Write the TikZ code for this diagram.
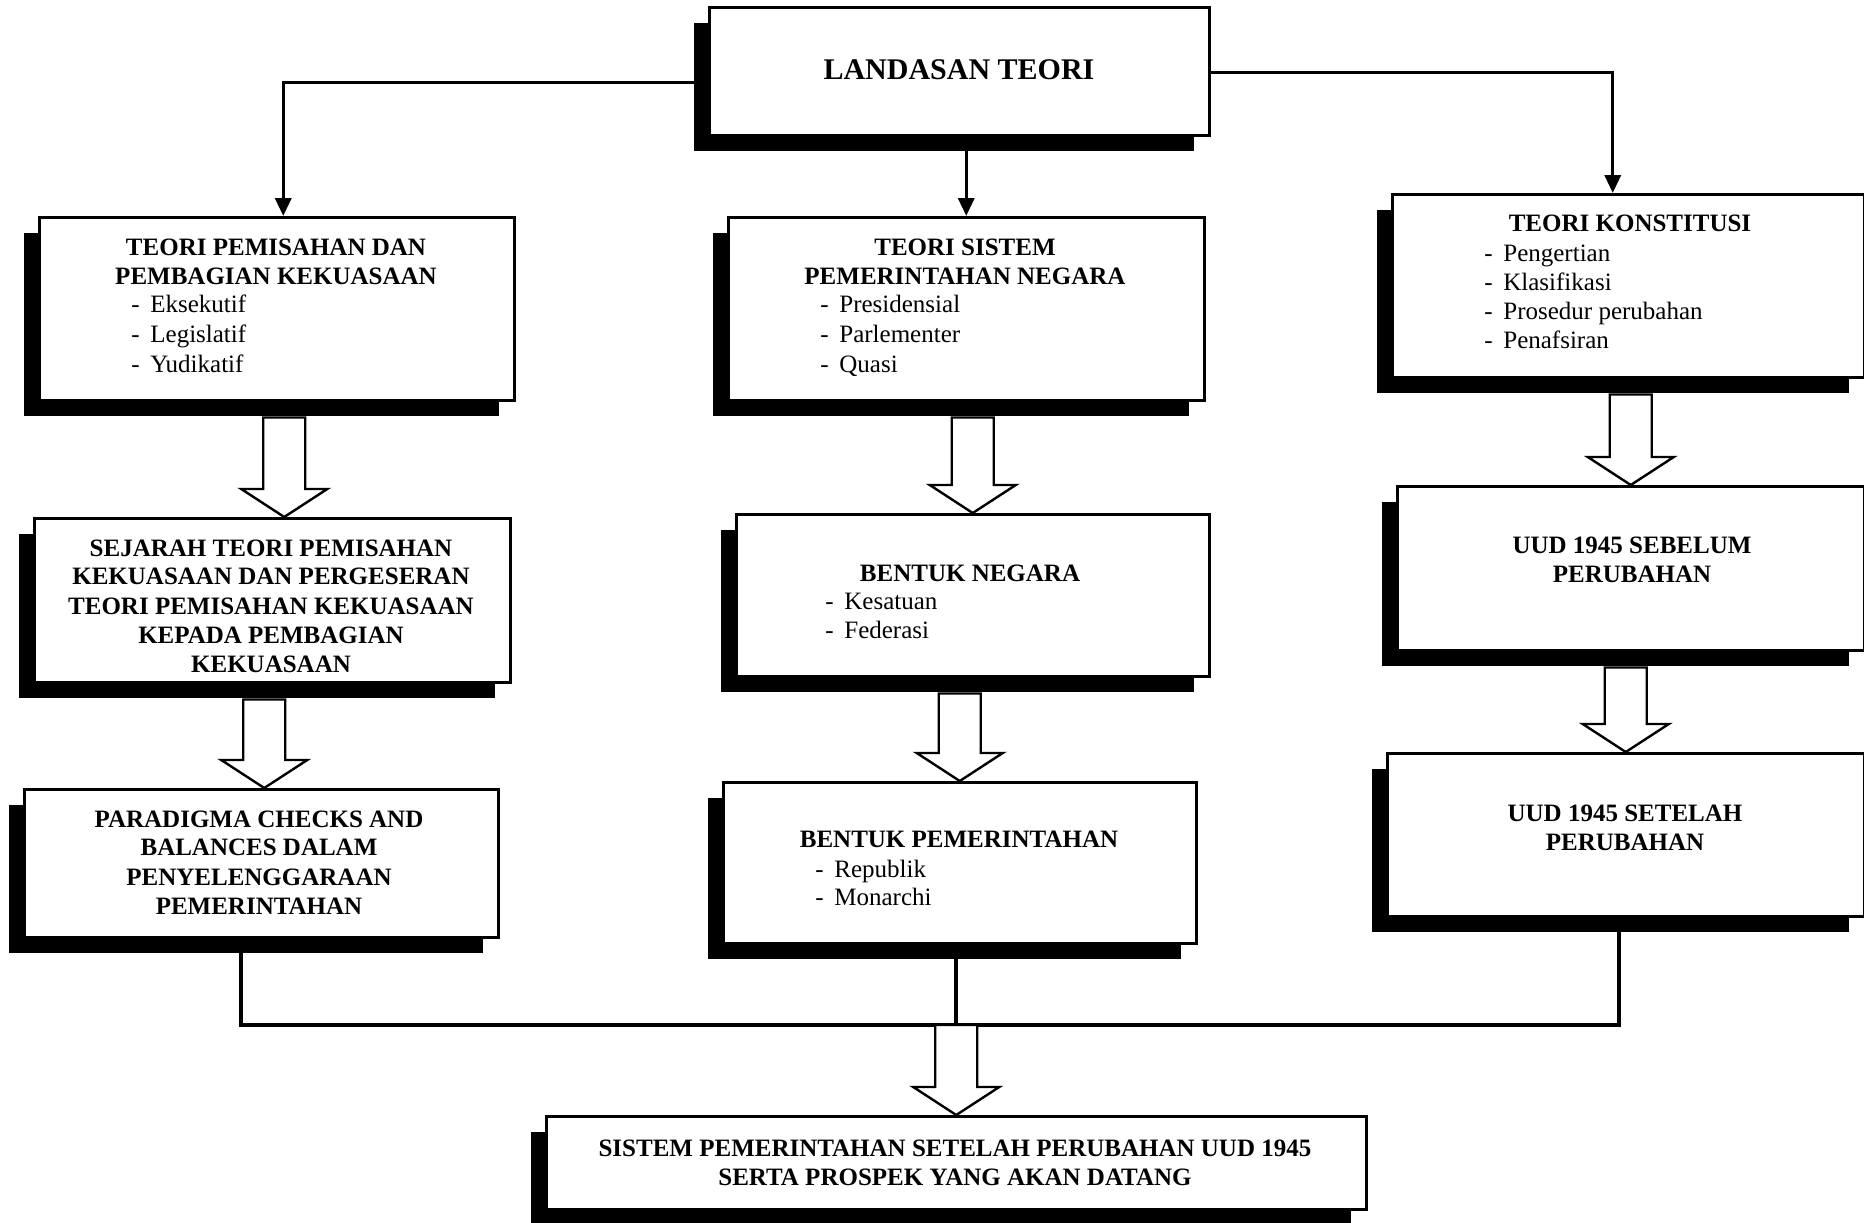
\documentclass[tikz,border=0pt]{standalone}
\usepackage{fontspec}
\setmainfont{Liberation Serif}
\usetikzlibrary{arrows.meta,calc,shadows}

\newcommand\dashitem[1]{\makebox[9.5pt][l]{-}#1}
% hollow block arrow: #1 top of the shaft, #2 tip
\newcommand\hollowarrow[2]{%
  \draw[hollowarr] let \p1=#1, \p2=#2 in
    (\x2-10.5pt,\y1) -- (\x2-10.5pt,\y2+14pt) -- (\x2-21.5pt,\y2+14pt) -- (\x2,\y2)
    -- (\x2+21.5pt,\y2+14pt) -- (\x2+10.5pt,\y2+14pt) -- (\x2+10.5pt,\y1) -- cycle;}

\tikzset{
  panel/.style={draw=black, line width=1.25pt, fill=white, anchor=north west, inner sep=0pt,
    general shadow={fill=black, shadow xshift=-7.5pt, shadow yshift=-8pt}},
  hd/.style={font=\bfseries\fontsize{12.5}{14.5}\selectfont, anchor=base, inner sep=0pt},
  itm/.style={font=\fontsize{12.5}{14.5}\selectfont, anchor=base west, inner sep=0pt},
  link/.style={line width=1.7pt, -{Triangle[length=9pt,width=8pt]}},
  joint/.style={line width=1.6pt},
  hollowarr/.style={draw=black, line width=1.2pt, fill=white, line join=miter},
}

\begin{document}
\begin{tikzpicture}[x=0.5pt,y=-0.5pt]
\useasboundingbox (0,0) rectangle (1864,1222);

% boxes
\node[panel, minimum width=250pt, minimum height=64pt] (b1) at (708,6) {};
\node[panel, minimum width=237.5pt, minimum height=91.5pt] (b2) at (38,216) {};
\node[panel, minimum width=238pt, minimum height=91.5pt] (b3) at (727,216) {};
\node[panel, minimum width=236pt, minimum height=91.5pt] (b4) at (1391,193) {};
\node[panel, minimum width=238pt, minimum height=82pt] (b5) at (33,517) {};
\node[panel, minimum width=236.5pt, minimum height=81pt] (b6) at (735,513) {};
\node[panel, minimum width=233.5pt, minimum height=82pt] (b7) at (1396,485) {};
\node[panel, minimum width=237pt, minimum height=74pt] (b8) at (23,788) {};
\node[panel, minimum width=236.5pt, minimum height=80.5pt] (b9) at (722,781) {};
\node[panel, minimum width=238.5pt, minimum height=81.5pt] (b10) at (1386,752) {};
\node[panel, minimum width=410pt, minimum height=46.5pt] (b11) at (545,1115) {};

% texts
\node[hd, font=\bfseries\fontsize{15}{18}\selectfont] (t1) at (959,79) {LANDASAN TEORI};

\node[hd] (t2a) at (276,255) {TEORI PEMISAHAN DAN};
\node[hd] (t2b) at (276,284) {PEMBAGIAN KEKUASAAN};
\node[itm] (t2c) at (131,312) {\dashitem{Eksekutif}};
\node[itm] (t2d) at (131,342) {\dashitem{Legislatif}};
\node[itm] (t2e) at (131,372) {\dashitem{Yudikatif}};

\node[hd] (t3a) at (965,255) {TEORI SISTEM};
\node[hd] (t3b) at (965,284) {PEMERINTAHAN NEGARA};
\node[itm] (t3c) at (820,312) {\dashitem{Presidensial}};
\node[itm] (t3d) at (820,342) {\dashitem{Parlementer}};
\node[itm] (t3e) at (820,372) {\dashitem{Quasi}};

\node[hd] (t4a) at (1630,231) {TEORI KONSTITUSI};
\node[itm] (t4b) at (1484,261) {\dashitem{Pengertian}};
\node[itm] (t4c) at (1484,290) {\dashitem{Klasifikasi}};
\node[itm] (t4d) at (1484,319) {\dashitem{Prosedur perubahan}};
\node[itm] (t4e) at (1484,348) {\dashitem{Penafsiran}};

\node[hd] (t5a) at (271,556) {SEJARAH TEORI PEMISAHAN};
\node[hd] (t5b) at (271,584) {KEKUASAAN DAN PERGESERAN};
\node[hd] (t5c) at (271,614) {TEORI PEMISAHAN KEKUASAAN};
\node[hd] (t5d) at (271,643) {KEPADA PEMBAGIAN};
\node[hd] (t5e) at (271,672) {KEKUASAAN};

\node[hd] (t6a) at (970,581) {BENTUK NEGARA};
\node[itm] (t6b) at (825,609) {\dashitem{Kesatuan}};
\node[itm] (t6c) at (825,638) {\dashitem{Federasi}};

\node[hd] (t7a) at (1632,553) {UUD 1945 SEBELUM};
\node[hd] (t7b) at (1632,582) {PERUBAHAN};

\node[hd] (t8a) at (259,827) {PARADIGMA CHECKS AND};
\node[hd] (t8b) at (259,855) {BALANCES DALAM};
\node[hd] (t8c) at (259,885) {PENYELENGGARAAN};
\node[hd] (t8d) at (259,914) {PEMERINTAHAN};

\node[hd] (t9a) at (959,847) {BENTUK PEMERINTAHAN};
\node[itm] (t9b) at (815,877) {\dashitem{Republik}};
\node[itm] (t9c) at (815,905) {\dashitem{Monarchi}};

\node[hd] (t10a) at (1625,821) {UUD 1945 SETELAH};
\node[hd] (t10b) at (1625,850) {PERUBAHAN};

\node[hd] (t11a) at (955,1156) {SISTEM PEMERINTAHAN SETELAH PERUBAHAN UUD 1945};
\node[hd] (t11b) at (955,1185) {SERTA PROSPEK YANG AKAN DATANG};

% thin arrows from the top box
\draw[link] ([yshift=-5.5pt]b1.west) -| ([xshift=3.25pt]b2.north);
\draw[link] (b3.north |- b1.south) -- (b3.north);
\draw[link] ([yshift=-0.5pt]b1.east) -| ([xshift=-7.75pt]b4.north);

% block arrows down each column
\hollowarrow{([yshift=-8pt]b2.south)}{([xshift=6pt]b5.north)}
\hollowarrow{([yshift=-8pt]b5.south)}{([xshift=1.5pt]b8.north)}
\hollowarrow{([yshift=-8pt]b3.south)}{(b6.north)}
\hollowarrow{([yshift=-8pt]b6.south)}{(b9.north)}
\hollowarrow{([yshift=-8pt]b4.south)}{(b7.north)}
\hollowarrow{([yshift=-8pt]b7.south)}{(b10.north)}

% joining lines into the final box
\coordinate (jl) at (241,1025);
\coordinate (jm) at (956,1025);
\coordinate (jr) at (1619,1025);
\draw[joint] (b8.south -| jl) -- (jl) -- (jr) -- (b10.south -| jr);
\draw[joint] (b9.south -| jm) -- (jm);
\hollowarrow{(jm)}{(b11.north)}
\end{tikzpicture}
\end{document}
